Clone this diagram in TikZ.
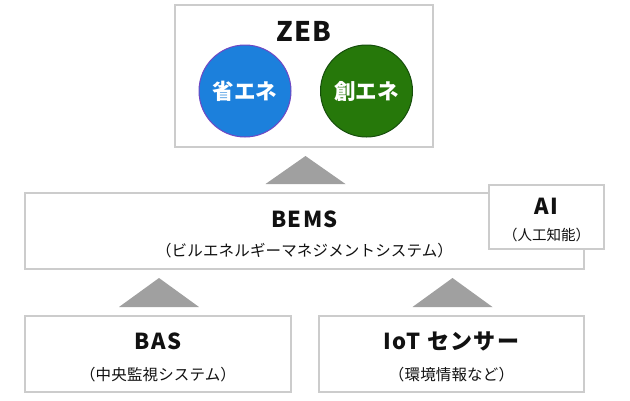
\documentclass[tikz,border=0pt]{standalone}
\usepackage{fontspec}
\setmainfont{Noto Sans CJK JP}
\usetikzlibrary{positioning,calc}
\definecolor{rule}{RGB}{204,204,204}
\definecolor{wedge}{RGB}{160,160,160}
\definecolor{saveblue}{RGB}{28,128,220}
\definecolor{saveedge}{RGB}{112,72,196}
\definecolor{makegreen}{RGB}{38,120,10}
\definecolor{makeedge}{RGB}{22,78,12}
\definecolor{ink}{RGB}{17,17,17}

\begin{document}
\begin{tikzpicture}[x=1pt,y=-1pt,
      box/.style={draw=rule,line width=2pt,fill=white,inner sep=0pt},
      head/.style={font=\fontsize{22}{26}\selectfont\bfseries\addfontfeature{LetterSpace=6},text=ink,inner sep=0pt},
      sub/.style={font=\fontsize{15.5}{18}\selectfont\addfontfeature{LetterSpace=1},text=ink,inner sep=0pt},
      ene/.style={circle,line width=1pt,minimum size=92pt,inner sep=0pt,text=white,
                  font=\fontsize{21.5}{24}\selectfont\bfseries},
      up/.style={fill=wedge}]
      \useasboundingbox (0,0) rectangle (630,400);
      % boxes
      \node[box,minimum width=258pt,minimum height=142pt] (zeb) at (304,76) {};
      \node[box,minimum width=559pt,minimum height=76pt] (bems) at (304.5,231) {};
      \node[box,minimum width=115pt,minimum height=64pt] (ai) at (546.5,217) {};
      \node[box,minimum width=266pt,minimum height=76pt] (bas) at (158,354) {};
      \node[box,minimum width=265pt,minimum height=76pt] (iot) at (451.5,354) {};
      % texts
      \node[head,font=\fontsize{27}{30}\selectfont\bfseries\addfontfeature{LetterSpace=5}] (zebt) at ($(zeb)+(0,-45)$) {ZEB};
      \node[ene,draw=saveedge,fill=saveblue] (save) at (245,91) {省エネ};
      \node[ene,draw=makeedge,fill=makegreen] (make) at (366.5,91) {創エネ};
      \node[head] (bemst) at ($(bems)+(0,-12)$) {BEMS};
      \node[sub] (bemss) at ($(bems)+(0,20)$) {（ビルエネルギーマネジメントシステム）};
      \node[head] (ait) at ($(ai)+(0,-10.5)$) {AI};
      \node[sub,font=\fontsize{14.5}{16}\selectfont] (ais) at ($(ai)+(0,18)$) {（人工知能）};
      \node[head] (bast) at ($(bas)+(0,-12.5)$) {BAS};
      \node[sub] (bass) at ($(bas)+(0,21)$) {（中央監視システム）};
      \node[head] (iott) at ($(iot)+(0,-12.5)$) {IoT センサー};
      \node[sub] (iots) at ($(iot)+(0,21)$) {（環境情報など）};
      % wedges
      \foreach \lo/\hi in {bems/zeb,bas/bems,iot/bems}
        \fill[up] ($(\lo.north |- \hi.south)+(1,8)$) -- ($(\lo.north)+(41,-8)$) -- ($(\lo.north)+(-39,-8)$) -- cycle;
    \end{tikzpicture}
\end{document}
